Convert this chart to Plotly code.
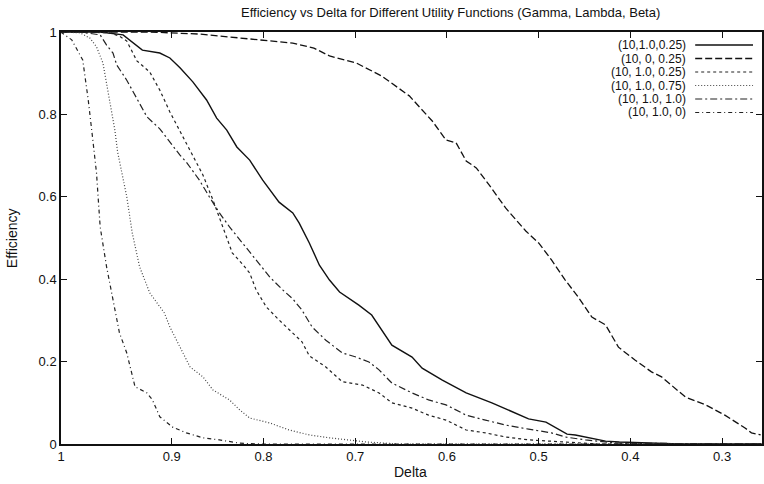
import plotly.graph_objects as go

# ---- data ----
labels = ["(10,1.0,0.25)", "(10, 0, 0.25)", "(10, 1.0, 0.25)", "(10, 1.0, 0.75)", "(10, 1.0, 1.0)", "(10, 1.0, 0)"]

s1_delta = [1.021, 0.978, 0.953, 0.932, 0.913, 0.902, 0.891, 0.877, 0.862, 0.851, 0.840, 0.829, 0.815, 0.801,
            0.783, 0.768, 0.761, 0.750, 0.739, 0.728, 0.717, 0.696, 0.682, 0.660, 0.638, 0.627, 0.605, 0.579,
            0.551, 0.529, 0.511, 0.492, 0.481, 0.469, 0.460, 0.445, 0.427, 0.412, 0.380, 0.347, 0.257]
s1_eff = [1.000, 1.000, 0.993, 0.956, 0.949, 0.937, 0.913, 0.879, 0.835, 0.791, 0.762, 0.721, 0.689, 0.641,
          0.587, 0.561, 0.536, 0.488, 0.434, 0.398, 0.369, 0.337, 0.313, 0.240, 0.211, 0.184, 0.155, 0.124,
          0.100, 0.078, 0.061, 0.053, 0.039, 0.024, 0.022, 0.015, 0.007, 0.005, 0.002, 0.000, 0.000]

s2_delta = [1.021, 0.924, 0.870, 0.840, 0.804, 0.768, 0.745, 0.728, 0.699, 0.671, 0.641, 0.627, 0.616, 0.601,
            0.590, 0.579, 0.568, 0.554, 0.536, 0.514, 0.500, 0.486, 0.471, 0.457, 0.442, 0.427, 0.413, 0.395,
            0.377, 0.366, 0.355, 0.340, 0.318, 0.297, 0.275, 0.268, 0.258]
s2_eff = [1.000, 1.000, 0.995, 0.988, 0.981, 0.973, 0.961, 0.942, 0.925, 0.893, 0.845, 0.811, 0.784, 0.738,
          0.731, 0.687, 0.670, 0.629, 0.573, 0.517, 0.488, 0.447, 0.398, 0.357, 0.308, 0.289, 0.235, 0.204,
          0.175, 0.163, 0.143, 0.114, 0.095, 0.070, 0.039, 0.027, 0.022]

s3_delta = [1.021, 1.000, 0.967, 0.957, 0.949, 0.938, 0.924, 0.913, 0.902, 0.888, 0.877, 0.866, 0.855, 0.845,
            0.834, 0.823, 0.815, 0.808, 0.797, 0.783, 0.768, 0.758, 0.750, 0.732, 0.714, 0.692, 0.674, 0.660,
            0.638, 0.620, 0.601, 0.579, 0.558, 0.536, 0.511, 0.478, 0.435, 0.257]
s3_eff = [1.000, 1.000, 0.998, 0.990, 0.978, 0.930, 0.903, 0.859, 0.806, 0.745, 0.701, 0.653, 0.592, 0.532,
          0.464, 0.437, 0.415, 0.374, 0.333, 0.301, 0.269, 0.248, 0.214, 0.187, 0.151, 0.143, 0.124, 0.100,
          0.087, 0.070, 0.058, 0.034, 0.027, 0.017, 0.010, 0.005, 0.000, 0.000]

s4_delta = [1.021, 1.000, 0.989, 0.982, 0.975, 0.970, 0.965, 0.962, 0.959, 0.953, 0.949, 0.943, 0.935, 0.924,
            0.916, 0.908, 0.902, 0.891, 0.880, 0.866, 0.855, 0.837, 0.826, 0.815, 0.793, 0.772, 0.750, 0.728,
            0.710, 0.688, 0.652, 0.257]
s4_eff = [1.000, 0.998, 0.985, 0.964, 0.925, 0.859, 0.803, 0.762, 0.709, 0.641, 0.600, 0.512, 0.430, 0.367,
          0.342, 0.318, 0.284, 0.235, 0.187, 0.163, 0.131, 0.107, 0.083, 0.063, 0.051, 0.034, 0.022, 0.015,
          0.010, 0.005, 0.000, 0.000]

s5_delta = [1.021, 1.000, 0.978, 0.971, 0.964, 0.960, 0.949, 0.938, 0.927, 0.913, 0.902, 0.891, 0.884, 0.870,
            0.859, 0.848, 0.837, 0.823, 0.808, 0.793, 0.779, 0.768, 0.758, 0.747, 0.732, 0.714, 0.699, 0.685,
            0.674, 0.660, 0.638, 0.620, 0.601, 0.579, 0.558, 0.536, 0.511, 0.486, 0.471, 0.449, 0.413, 0.257]
s5_eff = [1.000, 1.000, 0.993, 0.968, 0.949, 0.920, 0.883, 0.837, 0.794, 0.765, 0.733, 0.701, 0.684, 0.641,
          0.600, 0.561, 0.527, 0.488, 0.447, 0.405, 0.374, 0.352, 0.325, 0.284, 0.252, 0.221, 0.211, 0.199,
          0.180, 0.148, 0.124, 0.107, 0.095, 0.070, 0.058, 0.046, 0.036, 0.027, 0.017, 0.010, 0.002, 0.000]

s6_delta = [1.021, 1.009, 0.997, 0.991, 0.986, 0.982, 0.980, 0.978, 0.971, 0.964, 0.957, 0.949, 0.940, 0.927,
            0.921, 0.913, 0.899, 0.884, 0.866, 0.848, 0.826, 0.804, 0.257]
s6_eff = [1.000, 0.981, 0.932, 0.835, 0.738, 0.658, 0.592, 0.527, 0.430, 0.350, 0.270, 0.221, 0.139, 0.124,
          0.107, 0.066, 0.041, 0.027, 0.015, 0.010, 0.002, 0.000, 0.000]

x_tick_vals = [1.0207, 0.9, 0.8, 0.7, 0.6, 0.5, 0.4, 0.3]
x_tick_text = ["1", "0.9", "0.8", "0.7", "0.6", "0.5", "0.4", "0.3"]
y_tick_vals = [0, 0.2, 0.4, 0.6, 0.8, 1]
y_tick_text = ["0", "0.2", "0.4", "0.6", "0.8", "1"]

series_x = [s1_delta, s2_delta, s3_delta, s4_delta, s5_delta, s6_delta]
series_y = [s1_eff, s2_eff, s3_eff, s4_eff, s5_eff, s6_eff]

# ---- styles ----
dashes = ["solid", "7px,3px", "3px,3px", "1px,2px", "7px,3px,2px,3px", "4px,3px,1px,3px"]
colors = ["#111111", "#111111", "#222222", "#444444", "#222222", "#222222"]
widths = [1.4, 1.3, 1.2, 1.2, 1.2, 1.2]

W, H = 764, 484
L, R, T, B = 61, 0, 32, 40
PW, PH = W - L - R, H - T - B
FONT = "Liberation Sans, Arial, sans-serif"

def px(xp):
    return (xp - L) / PW

def py(yp):
    return (H - B - yp) / PH

fig = go.Figure()
for i in range(6):
    fig.add_trace(go.Scatter(x=series_x[i], y=series_y[i], mode="lines", name=labels[i],
                             line=dict(color=colors[i], width=widths[i], dash=dashes[i]),
                             showlegend=False))

annotations = []
shapes = []
# custom gnuplot-style key: right-aligned text followed by line sample
for i, lab in enumerate(labels):
    yp = 45 + 13.5 * i
    annotations.append(dict(text=lab, xref="paper", yref="paper", x=px(690), y=py(yp),
                            xanchor="right", yanchor="middle", showarrow=False,
                            font=dict(family=FONT, size=12, color="#111")))
    shapes.append(dict(type="line", xref="paper", yref="paper", x0=px(697), x1=px(755),
                       y0=py(yp), y1=py(yp),
                       line=dict(color=colors[i], width=widths[i], dash=dashes[i])))

annotations.append(dict(text="Efficiency vs Delta for Different Utility Functions (Gamma, Lambda, Beta)",
                        xref="paper", yref="paper", x=px(452), y=py(13), xanchor="center", yanchor="middle",
                        showarrow=False, font=dict(family=FONT, size=13, color="#111")))
annotations.append(dict(text="Efficiency", xref="paper", yref="paper", x=px(12), y=py(238), textangle=-90,
                        xanchor="center", yanchor="middle", showarrow=False,
                        font=dict(family=FONT, size=14, color="#111")))
annotations.append(dict(text="Delta", xref="paper", yref="paper", x=px(411), y=py(472),
                        xanchor="center", yanchor="middle", showarrow=False,
                        font=dict(family=FONT, size=14, color="#111")))

fig.update_layout(
    width=W, height=H,
    margin=dict(l=L, r=R, t=T, b=B, pad=0),
    paper_bgcolor="white", plot_bgcolor="white",
    font=dict(family=FONT, size=13, color="#111"),
    annotations=annotations, shapes=shapes,
    xaxis=dict(range=[1.0207, 0.2565], tickvals=x_tick_vals, ticktext=x_tick_text,
               showgrid=False, zeroline=False, showline=True, linecolor="#111", linewidth=1.5,
               ticks="inside", ticklen=6, tickcolor="#111", tickwidth=1.2, mirror="allticks",
               tickfont=dict(family=FONT, size=13, color="#111")),
    yaxis=dict(range=[0, 1], tickvals=y_tick_vals, ticktext=y_tick_text,
               showgrid=False, zeroline=False, showline=True, linecolor="#111", linewidth=1.5,
               ticks="inside", ticklen=6, tickcolor="#111", tickwidth=1.2, mirror="allticks",
               tickfont=dict(family=FONT, size=13, color="#111")),
)

fig.write_html("out.html")
